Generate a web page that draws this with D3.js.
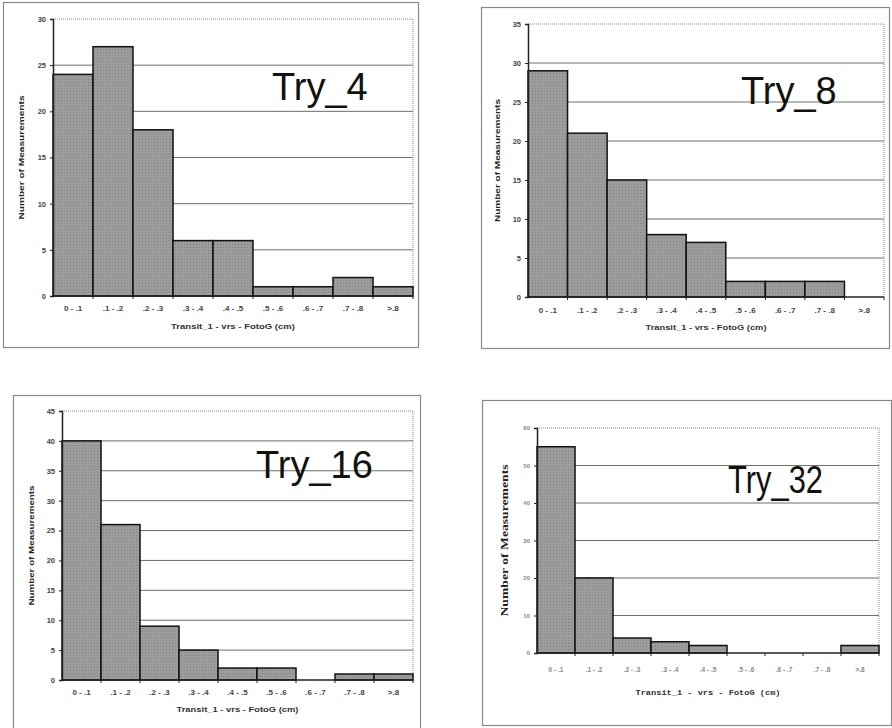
<!DOCTYPE html>
<html>
<head>
<meta charset="utf-8">
<script src="https://cdn.jsdelivr.net/npm/d3@7"></script>
<style>
  body { margin: 0; background: #fff; }
  svg { display: block; }
  .tick text { font-family: Arial, "Liberation Sans", sans-serif; font-size: 7.5px; font-weight: bold; fill: #444; }
</style>
</head>
<body>
<div id="grafico"></div>
<script>
var width = 892;
var height = 728;

// categorias (classes de diferença, cm)
var categories = ["0 - .1", ".1 - .2", ".2 - .3", ".3 - .4", ".4 - .5", ".5 - .6", ".6 - .7", ".7 - .8", ">.8"];

var try4Values  = [24, 27, 18, 6, 6, 1, 1, 2, 1];
var try8Values  = [29, 21, 15, 8, 7, 2, 2, 2, 0];
var try16Values = [40, 26, 9, 5, 2, 2, 0, 1, 1];
var try32Values = [55, 20, 4, 3, 2, 0, 0, 0, 2];

var titles = ["Try_4", "Try_8", "Try_16", "Try_32"];
var yMaxes = [30, 35, 45, 60];
var ySteps = [5, 5, 5, 10];

var xTitle = "Transit_1 - vrs - FotoG (cm)";
var yTitle = "Number of Measurements";

// geometria de cada painel (moldura e área de plotagem)
var paineis = [
  { values: try4Values,  frame: [3, 2, 415, 345],   plot: [53, 19, 413, 296],  titleX: 272, titleY: 100, tickY: 311, xTitleY: 329, yTitleX: 24, font: 38, xLen: 124, yLen: 124 },
  { values: try8Values,  frame: [481, 7, 408, 341], plot: [528, 24, 884, 297], titleX: 741, titleY: 104, tickY: 313, xTitleY: 330, yTitleX: 500, font: 38, xLen: 121, yLen: 123 },
  { values: try16Values, frame: [13, 395, 407, 345], plot: [62, 411, 413, 680], titleX: 256, titleY: 478, tickY: 695, xTitleY: 712, yTitleX: 34, font: 38, xLen: 122, yLen: 120 },
  { values: try32Values, frame: [482, 400, 409, 325], plot: [537, 428, 879, 653], titleX: 728, titleY: 493, tickY: 672, xTitleY: 695, yTitleX: 508, font: 38, xLen: 145, yLen: 152, narrow: true }
];

const svg = d3.select("#grafico").append("svg")
  .attr("width", width)
  .attr("height", height);

// textura pontilhada parecida com a impressão original
const defs = svg.append("defs");
const pat = defs.append("pattern")
  .attr("id", "pontos")
  .attr("width", 3).attr("height", 3)
  .attr("patternUnits", "userSpaceOnUse");
pat.append("rect").attr("width", 3).attr("height", 3).attr("fill", "#9c9c9c");
pat.append("rect").attr("x", 1).attr("y", 1).attr("width", 1).attr("height", 1).attr("fill", "#808080");

paineis.forEach((p, i) => {
  const g = svg.append("g");
  const [fx, fy, fw, fh] = p.frame;
  const [x0, y0, x1, y1] = p.plot;

  g.append("rect")
    .attr("x", fx + 0.5).attr("y", fy + 0.5)
    .attr("width", fw).attr("height", fh)
    .attr("fill", "none")
    .attr("stroke", "#8a8a8a")
    .attr("stroke-width", 1.2);

  const x = d3.scaleBand().domain(categories).range([x0, x1]).padding(0);
  const y = d3.scaleLinear().domain([0, yMaxes[i]]).range([y1, y0]);
  const ticks = d3.range(0, yMaxes[i] + 0.001, ySteps[i]);

  // linhas de grade
  g.selectAll(".grid")
    .data(ticks.filter(t => t > 0 && t < yMaxes[i]))
    .enter().append("line")
    .attr("x1", x0).attr("x2", x1)
    .attr("y1", d => y(d)).attr("y2", d => y(d))
    .attr("stroke", "#6e6e6e")
    .attr("stroke-width", 1);

  // borda pontilhada da área de plotagem
  g.append("path")
    .attr("d", `M${x0},${y(yMaxes[i])}H${x1}V${y1}`)
    .attr("fill", "none")
    .attr("stroke", "#888")
    .attr("stroke-dasharray", "1,1");

  // barras
  g.selectAll(".bar")
    .data(p.values)
    .enter().append("rect")
    .attr("x", (d, j) => x(categories[j]))
    .attr("y", d => y(d))
    .attr("width", x.bandwidth())
    .attr("height", d => y1 - y(d))
    .attr("fill", "url(#pontos)")
    .attr("stroke", "#111")
    .attr("stroke-width", 1.5);

  // eixo x: linha base + marcas entre categorias
  g.append("line")
    .attr("x1", x0).attr("x2", x1)
    .attr("y1", y1).attr("y2", y1)
    .attr("stroke", "#222").attr("stroke-width", 1.5);
  g.selectAll(".xmark")
    .data(categories)
    .enter().append("line")
    .attr("x1", d => x(d) + x.bandwidth()).attr("x2", d => x(d) + x.bandwidth())
    .attr("y1", y1).attr("y2", y1 + 3)
    .attr("stroke", "#222");

  g.selectAll(".xlab")
    .data(categories)
    .enter().append("text")
    .attr("x", d => x(d) + x.bandwidth() / 2)
    .attr("y", p.tickY)
    .attr("text-anchor", "middle")
    .attr("font-family", "Arial, 'Liberation Sans', sans-serif")
    .attr("font-size", p.narrow ? 6.5 : 8)
    .attr("font-weight", "bold")
    .attr("fill", p.narrow ? "#888" : "#444")
    .text(d => d);

  // eixo y
  const eixoY = g.append("g")
    .attr("transform", `translate(${x0},0)`)
    .call(d3.axisLeft(y).tickValues(ticks).tickSize(3).tickPadding(4).tickFormat(d3.format("d")));
  eixoY.select(".domain").attr("stroke", "#222").attr("stroke-width", 1.5);
  eixoY.selectAll(".tick line").attr("stroke", "#222");
  if (p.narrow) eixoY.selectAll(".tick text").style("font-size", "6px").style("fill", "#888");

  // títulos dos eixos
  g.append("text")
    .attr("x", (x0 + x1) / 2)
    .attr("y", p.xTitleY)
    .attr("text-anchor", "middle")
    .attr("font-family", p.narrow ? "'Liberation Mono', monospace" : "Arial, 'Liberation Sans', sans-serif")
    .attr("font-size", p.narrow ? 7.5 : 8)
    .attr("font-weight", "bold")
    .attr("fill", "#333")
    .attr("textLength", p.xLen)
    .attr("lengthAdjust", "spacingAndGlyphs")
    .text(xTitle);

  g.append("text")
    .attr("transform", `translate(${p.yTitleX},${(y0 + y1) / 2}) rotate(-90)`)
    .attr("text-anchor", "middle")
    .attr("font-family", p.narrow ? "'Liberation Serif', serif" : "Arial, 'Liberation Sans', sans-serif")
    .attr("font-size", p.narrow ? 10 : 8)
    .attr("font-weight", "bold")
    .attr("fill", "#222")
    .attr("textLength", p.yLen)
    .attr("lengthAdjust", "spacingAndGlyphs")
    .text(yTitle);

  // rótulo grande do ensaio
  const t = g.append("text")
    .attr("x", p.titleX)
    .attr("y", p.titleY)
    .attr("font-family", "Arial, 'Liberation Sans', sans-serif")
    .attr("font-size", p.font)
    .attr("fill", "#111")
    .text(titles[i]);
  if (p.narrow) t.attr("textLength", 95).attr("lengthAdjust", "spacingAndGlyphs");
});
</script>
</body>
</html>
